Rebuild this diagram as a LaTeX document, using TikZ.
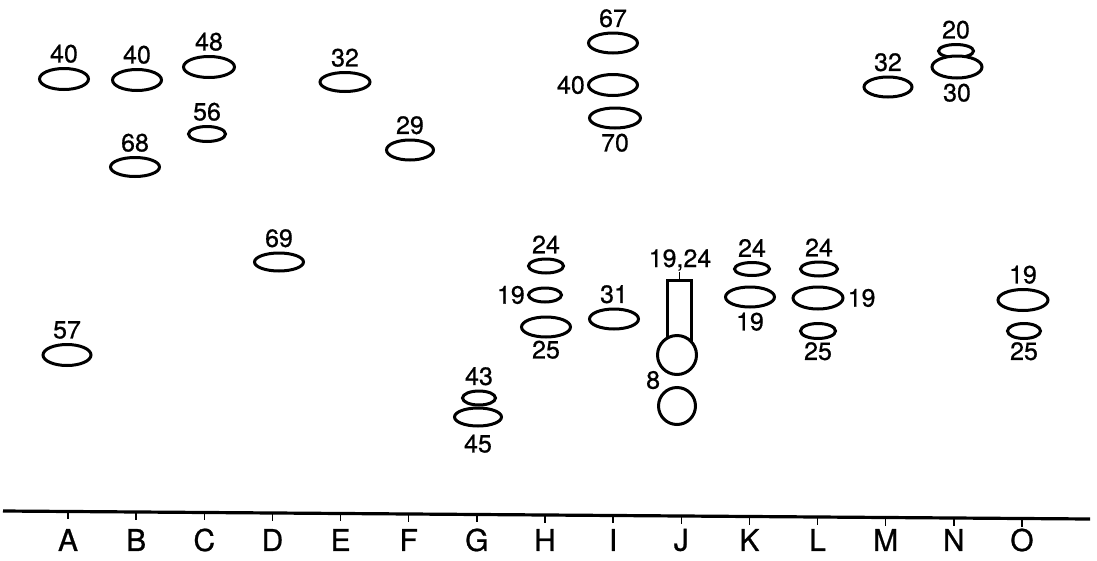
\documentclass[tikz,border=0pt]{standalone}
\usepackage{fontspec}
\setmainfont{TeX Gyre Heros}
\usetikzlibrary{shapes.geometric}
\newcommand\numsize{\fontsize{25}{30}\selectfont\addfontfeature{FakeBold=0.6}}
\newcommand\lettersize{\fontsize{30}{36}\selectfont\addfontfeature{FakeBold=0.8}}

\begin{document}
\begin{tikzpicture}[x=1pt, y=-1pt,
  pod/.style={shape=ellipse, draw=black, line width=3pt, fill=white, inner sep=0pt},
  ball/.style={shape=circle, draw=black, line width=3pt, fill=white, inner sep=0pt},
  num/.style={font=\numsize, inner sep=1pt},
  every label/.style={font=\numsize, inner sep=4pt},
  letter/.style={font=\lettersize, inner sep=0pt},
  axis/.style={line width=3.2pt},
  tickline/.style={line width=1.4pt}]
\useasboundingbox (0,0) rectangle (1097,560);
% upper rows
\node[pod, minimum width=49, minimum height=21, label={above:40}] (A40) at (64,79) {};
\node[pod, minimum width=49, minimum height=21, label={above:40}] (B40) at (137,80) {};
\node[pod, minimum width=51, minimum height=21, label={above:48}] (C48) at (209,67) {};
\node[pod, minimum width=37, minimum height=15, label={above:56}] (C56) at (207,134) {};
\node[pod, minimum width=49, minimum height=19, label={above:68}] (B68) at (135,167) {};
\node[pod, minimum width=50, minimum height=19, label={above:32}] (E32) at (345,82) {};
\node[pod, minimum width=47, minimum height=20, label={above:29}] (F29) at (410,150) {};
\node[pod, minimum width=49, minimum height=20, label={above:67}] (I67) at (613,43) {};
\node[pod, minimum width=49, minimum height=21, label={[label distance=-2pt]left:40}] (I40) at (613,85) {};
\node[pod, minimum width=51, minimum height=20, label={below:70}] (I70) at (615,118) {};
\node[pod, minimum width=48, minimum height=20, label={above:32}] (M32) at (888,87) {};
\node[pod, minimum width=35, minimum height=13, label={above:20}] (N20) at (956,51) {};
\node[pod, minimum width=50, minimum height=22, label={below:30}] (N30) at (957,67) {};
% lower rows
\node[pod, minimum width=49, minimum height=18, label={above:69}] (D69) at (279,262) {};
\node[pod, minimum width=48, minimum height=21, label={above:57}] (A57) at (67,355) {};
\node[pod, minimum width=35, minimum height=14, label={above:24}] (H24) at (546,266) {};
\node[pod, minimum width=33, minimum height=14, label={[label distance=-2pt]left:19}] (H19) at (545,295) {};
\node[pod, minimum width=49, minimum height=20, label={[label distance=-2pt]below:25}] (H25) at (546,327) {};
\node[pod, minimum width=49, minimum height=20, label={above:31}] (I31) at (614,319) {};
\node[pod, minimum width=35, minimum height=13, label={above:24}] (K24) at (752,269) {};
\node[pod, minimum width=49, minimum height=20, label={below:19}] (K19) at (750,297) {};
\node[pod, minimum width=37, minimum height=14, label={above:24}] (L24) at (819,269) {};
\node[pod, minimum width=50, minimum height=22, label={[label distance=-1pt]right:19}] (L19) at (818,298) {};
\node[pod, minimum width=35, minimum height=15, label={[label distance=-2pt]below:25}] (L25) at (818,331) {};
\node[pod, minimum width=50, minimum height=21, label={above:19}] (O19) at (1023,300) {};
\node[pod, minimum width=33, minimum height=15, label={[label distance=-2pt]below:25}] (O25) at (1024,331) {};
\node[pod, minimum width=33, minimum height=14, label={above:43}] (G43) at (479,398) {};
\node[pod, minimum width=47, minimum height=18, label={[label distance=3pt]below:45}] (G45) at (478,417) {};
% column J
\node[draw=black, line width=3pt, minimum width=24, minimum height=68, inner sep=0pt] (Jbox) at (679.5,314) {};
\node[ball, minimum size=39] (Jtop) at (677,355) {};
\node[ball, minimum size=37, label={[label distance=-2pt]135:8}] (Jbot) at (677,406) {};
\node[num] (Jlab) at (680,260) {19,24};
\draw[tickline, line width=1.8pt] (Jbox.north) -- (Jlab.south -| Jbox.north);
% axis
\coordinate (axL) at (3,511);
\coordinate (axR) at (1090,519);
\draw[axis] (axL) -- (axR);
\foreach \l [count=\i from 0] in {A,B,C,D,E,F,G,H,I,J,K,L,M,N,O} {
  \pgfmathsetmacro\tx{68+68.14*\i}
  \pgfmathsetmacro\ty{511+(\tx-3)*8/1087}
  \coordinate (t\l) at (\tx,\ty);
  \draw[tickline] (t\l) -- ++(0,8);
  \node[letter] (l\l) at (\tx,540) {\l};
}
\end{tikzpicture}
\end{document}
